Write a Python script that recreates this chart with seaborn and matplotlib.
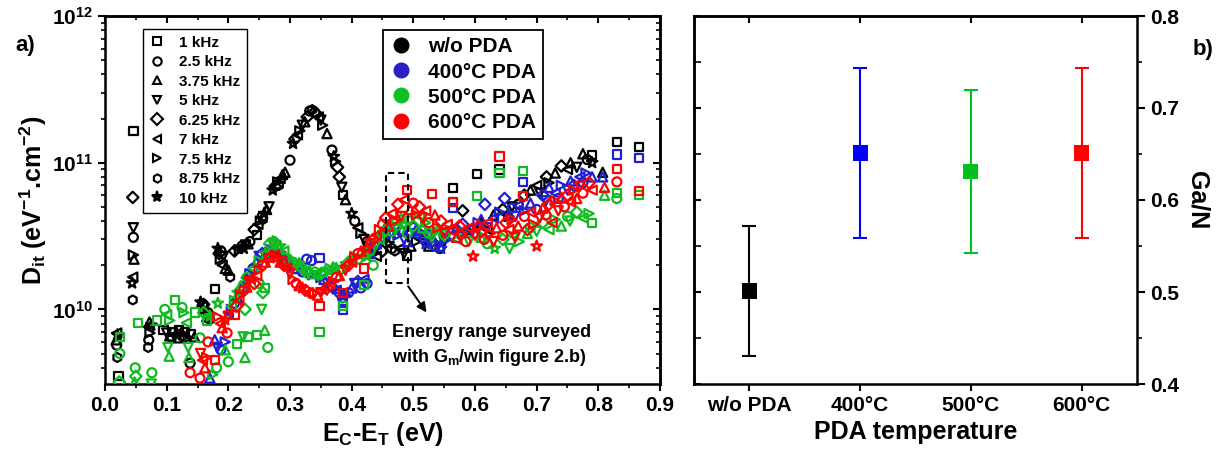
import numpy as np
import pandas as pd
import matplotlib
matplotlib.use("Agg")
import matplotlib.pyplot as plt
import seaborn as sns
from matplotlib.lines import Line2D
from matplotlib.patches import Rectangle
from matplotlib.ticker import MultipleLocator, FormatStrFormatter, FixedLocator

# ---------------- data ----------------
freq_labels = ["1 kHz", "2.5 kHz", "3.75 kHz", "5 kHz", "6.25 kHz",
               "7 kHz", "7.5 kHz", "8.75 kHz", "10 kHz"]
cond_labels = ["w/o PDA", "400°C PDA", "500°C PDA", "600°C PDA"]
DIT_UNIT = 1e10  # y values below are in units of 1e10 eV-1 cm-2

# (E_C - E_T [eV], Dit [1e10], frequency index)
wo_pda = [
    (0.019, 0.69, 5), (0.020, 0.67, 8), (0.019, 0.57, 1), (0.020, 0.47, 7), (0.022, 0.35, 0), (0.018, 0.62, 2),
    (0.046, 16.4, 0), (0.045, 5.8, 4), (0.046, 3.6, 3), (0.046, 3.1, 1), (0.046, 2.35, 6), (0.047, 2.2, 2),
    (0.045, 1.66, 5), (0.044, 1.51, 8), (0.045, 1.16, 7),
    (0.072, 0.82, 2), (0.070, 0.76, 5), (0.073, 0.69, 6), (0.071, 0.62, 1), (0.070, 0.55, 7), (0.075, 0.78, 8),
    (0.095, 0.72, 0), (0.100, 0.69, 3), (0.105, 0.66, 2), (0.110, 0.70, 0), (0.115, 0.68, 5), (0.120, 0.72, 0),
    (0.125, 0.66, 1), (0.130, 0.70, 0), (0.135, 0.64, 6), (0.138, 0.43, 1), (0.140, 0.68, 0), (0.145, 0.65, 2),
    (0.108, 0.64, 7), (0.118, 0.64, 2),
    (0.155, 1.12, 8), (0.158, 1.05, 5), (0.162, 1.00, 6), (0.165, 0.89, 2), (0.167, 0.95, 1), (0.160, 1.08, 4),
    (0.178, 1.38, 0), (0.170, 0.85, 7),
    (0.183, 2.6, 8), (0.185, 2.4, 4), (0.187, 2.2, 6), (0.190, 2.0, 5), (0.192, 2.3, 3), (0.195, 1.9, 2),
    (0.200, 1.85, 2), (0.203, 1.66, 7), (0.188, 2.5, 1),
    (0.210, 2.5, 4), (0.215, 2.6, 5), (0.218, 2.55, 6), (0.222, 2.7, 1), (0.225, 2.6, 8), (0.228, 2.75, 3),
    (0.232, 2.8, 2), (0.235, 2.9, 1), (0.246, 3.2, 0),
    (0.242, 3.5, 4), (0.248, 3.8, 5), (0.252, 4.0, 6), (0.255, 4.3, 1), (0.258, 4.5, 8), (0.262, 4.8, 2),
    (0.266, 5.0, 3), (0.256, 4.1, 7),
    (0.272, 6.5, 8), (0.276, 6.9, 4), (0.280, 7.4, 6), (0.284, 7.8, 5), (0.288, 8.3, 2), (0.292, 8.6, 2),
    (0.300, 10.4, 1), (0.282, 7.0, 7),
    (0.305, 13.5, 8), (0.308, 14.5, 4), (0.312, 15.5, 5), (0.316, 16.5, 6), (0.320, 18.0, 3), (0.324, 19.0, 2),
    (0.328, 20.5, 4),
    (0.332, 22.5, 1), (0.336, 23.0, 7), (0.340, 22.0, 1), (0.343, 21.5, 4), (0.346, 20.5, 5), (0.350, 19.5, 3),
    (0.353, 18.0, 6),
    (0.360, 15.8, 2), (0.368, 12.2, 1), (0.371, 11.0, 8), (0.374, 10.2, 6), (0.377, 9.3, 4), (0.380, 8.0, 4),
    (0.384, 6.8, 3), (0.386, 6.0, 0), (0.390, 5.6, 2), (0.400, 4.5, 8), (0.405, 4.0, 1), (0.410, 3.6, 5),
    (0.415, 3.3, 6), (0.420, 3.0, 3), (0.425, 2.9, 1), (0.430, 2.6, 2), (0.436, 2.4, 6), (0.440, 2.3, 5),
    (0.450, 2.5, 4), (0.460, 2.8, 8), (0.465, 2.6, 1), (0.470, 2.5, 7), (0.478, 2.6, 5), (0.485, 2.4, 3),
    (0.490, 2.3, 0), (0.496, 2.7, 2), (0.505, 2.9, 6), (0.512, 3.0, 5), (0.518, 2.8, 3), (0.525, 2.7, 2),
    (0.530, 2.9, 4),
    (0.543, 2.6, 1), (0.550, 2.9, 3), (0.564, 6.7, 0), (0.580, 4.7, 4), (0.590, 3.4, 8), (0.603, 8.4, 0),
    (0.610, 3.9, 2), (0.620, 3.5, 5), (0.630, 4.4, 2), (0.640, 9.0, 0), (0.645, 4.8, 4), (0.655, 4.3, 6),
    (0.660, 5.0, 3),
    (0.670, 5.2, 1), (0.680, 6.0, 4), (0.690, 6.5, 2), (0.700, 7.0, 5), (0.705, 6.2, 3), (0.716, 8.0, 4),
    (0.720, 7.3, 6), (0.730, 8.5, 2), (0.740, 9.5, 4), (0.750, 9.0, 5), (0.755, 10.0, 2), (0.765, 9.3, 3),
    (0.775, 11.5, 2), (0.782, 10.5, 1), (0.790, 11.3, 0), (0.790, 10.0, 8), (0.807, 8.6, 2), (0.830, 13.9, 0),
    (0.866, 12.8, 0),
]

pda_400 = [
    (0.170, 0.34, 2), (0.178, 0.62, 2), (0.182, 0.55, 3), (0.188, 0.53, 1), (0.195, 0.60, 6), (0.200, 0.95, 5),
    (0.205, 1.00, 6), (0.210, 1.10, 1), (0.215, 1.20, 2), (0.220, 1.35, 4), (0.225, 1.50, 5), (0.230, 1.60, 8),
    (0.235, 1.75, 6), (0.240, 1.90, 1), (0.245, 2.10, 2), (0.250, 2.30, 3), (0.255, 2.40, 4), (0.260, 2.45, 5),
    (0.265, 2.50, 1), (0.270, 2.55, 6), (0.275, 2.45, 2), (0.280, 2.40, 8), (0.285, 2.30, 3),
    (0.290, 2.20, 1), (0.295, 2.10, 4), (0.300, 2.00, 5), (0.305, 1.95, 6), (0.310, 1.90, 2), (0.315, 1.85, 3),
    (0.320, 1.80, 1), (0.327, 2.20, 1), (0.335, 2.15, 1), (0.330, 1.75, 4), (0.340, 1.70, 5), (0.348, 2.25, 0),
    (0.350, 1.65, 6), (0.355, 1.60, 2),
    (0.360, 1.50, 3), (0.365, 1.45, 1), (0.370, 1.40, 4), (0.375, 1.35, 5), (0.380, 1.30, 1), (0.385, 1.20, 1),
    (0.386, 1.10, 0), (0.386, 1.00, 0), (0.390, 1.25, 6), (0.395, 1.30, 1), (0.400, 1.40, 2), (0.405, 1.50, 3),
    (0.410, 1.55, 4), (0.415, 1.40, 1), (0.420, 1.60, 5), (0.425, 1.50, 1),
    (0.430, 2.40, 2), (0.435, 2.60, 6), (0.440, 2.80, 5), (0.445, 3.00, 4), (0.450, 3.10, 1), (0.455, 3.30, 2),
    (0.460, 3.50, 3), (0.465, 3.30, 8), (0.470, 3.60, 5), (0.475, 3.20, 6), (0.480, 3.40, 1), (0.485, 3.00, 3),
    (0.490, 2.90, 2), (0.497, 3.30, 0), (0.500, 3.60, 4),
    (0.505, 3.20, 5), (0.510, 3.40, 6), (0.515, 3.00, 3), (0.520, 2.80, 8), (0.525, 3.30, 2), (0.530, 2.90, 1),
    (0.535, 2.70, 1), (0.540, 3.10, 4), (0.545, 2.60, 8), (0.550, 3.40, 5), (0.555, 3.00, 6), (0.564, 4.90, 0),
    (0.570, 3.60, 2), (0.575, 3.20, 3), (0.580, 3.80, 4), (0.590, 3.50, 5), (0.600, 3.30, 1), (0.605, 3.90, 6),
    (0.610, 4.10, 2), (0.616, 5.20, 4), (0.620, 3.60, 3), (0.630, 4.20, 5), (0.640, 4.60, 6), (0.648, 5.70, 4),
    (0.655, 4.40, 2), (0.660, 4.90, 1), (0.665, 4.30, 3), (0.670, 5.10, 5), (0.678, 7.40, 0), (0.680, 4.70, 6),
    (0.690, 5.30, 2), (0.700, 4.80, 1),
    (0.710, 6.00, 4), (0.715, 5.50, 3), (0.720, 6.80, 2), (0.730, 6.20, 5), (0.735, 5.70, 1), (0.740, 7.00, 6),
    (0.750, 6.50, 3), (0.755, 7.50, 2), (0.760, 7.00, 4), (0.770, 8.00, 5), (0.775, 7.30, 1), (0.780, 8.50, 6),
    (0.790, 8.00, 2), (0.807, 8.00, 2), (0.830, 11.4, 0), (0.866, 10.8, 0),
]

pda_500 = [
    (0.024, 0.65, 0), (0.024, 0.50, 1), (0.023, 0.32, 4), (0.049, 0.40, 1), (0.050, 0.35, 4), (0.048, 0.32, 2),
    (0.054, 0.81, 0), (0.076, 0.37, 1), (0.075, 0.31, 3), (0.084, 0.84, 0), (0.097, 1.00, 1), (0.100, 0.92, 5),
    (0.105, 0.84, 6), (0.102, 0.55, 3), (0.104, 0.48, 2), (0.113, 1.16, 0), (0.125, 1.03, 1), (0.128, 0.95, 6),
    (0.132, 0.81, 5), (0.135, 0.55, 3), (0.136, 0.47, 2), (0.146, 0.95, 0), (0.154, 0.64, 1), (0.160, 0.95, 4),
    (0.165, 0.84, 0), (0.170, 0.90, 8), (0.183, 1.10, 8), (0.181, 0.40, 1), (0.195, 0.53, 2), (0.200, 0.44, 1),
    (0.214, 0.58, 0), (0.224, 0.65, 3), (0.227, 0.47, 2), (0.232, 0.65, 0), (0.246, 0.67, 0), (0.259, 0.72, 2),
    (0.264, 0.55, 1), (0.254, 1.00, 3), (0.250, 1.50, 1), (0.256, 1.30, 4), (0.227, 1.00, 4), (0.260, 1.40, 0),
    (0.175, 0.36, 6),
    (0.205, 1.05, 5), (0.210, 1.15, 6), (0.215, 1.30, 8), (0.220, 1.45, 2), (0.230, 1.65, 1), (0.240, 1.90, 5),
    (0.250, 2.15, 6), (0.260, 2.40, 8), (0.267, 2.80, 4), (0.272, 2.90, 8), (0.276, 2.85, 4), (0.280, 2.75, 2),
    (0.284, 2.70, 8), (0.290, 2.50, 5), (0.295, 2.30, 6), (0.300, 2.20, 2), (0.305, 2.10, 1), (0.310, 2.00, 3),
    (0.315, 2.05, 8), (0.320, 1.90, 4), (0.325, 1.85, 5), (0.330, 1.80, 6), (0.335, 1.75, 2), (0.340, 1.80, 1),
    (0.345, 1.70, 3), (0.348, 0.70, 0), (0.350, 1.75, 4), (0.355, 1.80, 1), (0.360, 1.85, 5), (0.365, 1.90, 6),
    (0.370, 1.95, 2), (0.375, 1.90, 8), (0.380, 1.85, 1), (0.386, 1.05, 0), (0.390, 1.95, 3), (0.395, 2.10, 4),
    (0.400, 2.20, 5), (0.405, 2.30, 6), (0.410, 2.20, 1), (0.420, 1.46, 0), (0.420, 2.40, 2), (0.425, 2.30, 8),
    (0.430, 2.50, 1), (0.435, 2.00, 1), (0.440, 2.80, 3), (0.445, 3.00, 5),
    (0.450, 3.20, 6), (0.455, 3.50, 4), (0.460, 3.80, 2), (0.465, 3.40, 1), (0.470, 4.00, 5), (0.475, 3.60, 6),
    (0.480, 4.20, 2), (0.485, 3.80, 8), (0.490, 3.30, 1), (0.495, 4.00, 3), (0.500, 3.70, 4), (0.510, 4.30, 5),
    (0.515, 3.60, 2), (0.520, 3.90, 6), (0.525, 3.30, 1), (0.530, 3.10, 3), (0.540, 3.50, 8), (0.550, 3.20, 4),
    (0.564, 5.40, 0), (0.570, 3.00, 5), (0.580, 3.30, 6), (0.590, 2.90, 3), (0.603, 5.90, 0),
    (0.610, 3.10, 2), (0.620, 2.80, 1), (0.632, 2.60, 8), (0.640, 8.50, 0), (0.645, 3.00, 4), (0.656, 2.60, 3),
    (0.660, 3.20, 5), (0.672, 2.90, 6), (0.678, 8.80, 0), (0.685, 3.30, 2), (0.690, 3.60, 1), (0.700, 3.40, 3),
    (0.710, 3.90, 4), (0.720, 3.50, 5), (0.730, 4.10, 6), (0.740, 3.70, 2), (0.750, 4.30, 1), (0.754, 4.00, 3),
    (0.765, 4.60, 4), (0.775, 4.20, 5), (0.785, 4.50, 6), (0.790, 3.90, 0), (0.810, 6.00, 2), (0.830, 6.20, 0),
    (0.830, 5.70, 1), (0.866, 6.00, 0),
]

pda_600 = [
    (0.138, 0.37, 1), (0.154, 0.34, 1), (0.155, 0.50, 3), (0.158, 0.45, 5), (0.162, 0.40, 2), (0.165, 0.47, 6),
    (0.167, 0.60, 1), (0.178, 0.45, 0), (0.183, 0.89, 6), (0.187, 0.80, 5), (0.190, 0.75, 2), (0.195, 0.85, 8),
    (0.198, 0.69, 1), (0.200, 0.90, 3), (0.210, 0.92, 0),
    (0.213, 1.05, 4), (0.217, 1.15, 5), (0.220, 1.25, 6), (0.225, 1.35, 1), (0.230, 1.42, 2), (0.233, 1.55, 3),
    (0.238, 1.60, 8), (0.242, 1.50, 4), (0.246, 1.70, 5), (0.250, 1.85, 6), (0.255, 2.00, 1), (0.260, 2.10, 2),
    (0.265, 2.20, 3), (0.270, 2.30, 4), (0.275, 2.35, 5), (0.280, 2.25, 6), (0.284, 2.10, 2), (0.288, 2.15, 1),
    (0.290, 2.00, 4), (0.295, 1.90, 5), (0.300, 1.75, 3), (0.305, 1.60, 6), (0.310, 1.50, 1), (0.315, 1.45, 2),
    (0.320, 1.40, 8), (0.325, 1.35, 4), (0.330, 1.30, 5), (0.335, 1.28, 1), (0.340, 1.30, 6), (0.345, 1.25, 2),
    (0.348, 1.05, 0), (0.350, 1.30, 3), (0.355, 1.35, 8), (0.360, 1.40, 4), (0.365, 1.50, 5), (0.370, 1.55, 6),
    (0.375, 1.65, 1), (0.380, 1.70, 2), (0.386, 1.30, 0), (0.390, 1.85, 3), (0.395, 2.00, 4), (0.400, 2.10, 5),
    (0.405, 2.25, 6), (0.410, 2.40, 1), (0.415, 2.50, 2), (0.420, 1.90, 0), (0.425, 2.60, 8), (0.430, 2.80, 3),
    (0.435, 3.00, 4), (0.440, 3.20, 5), (0.445, 3.50, 6),
    (0.450, 3.80, 1), (0.455, 4.20, 4), (0.460, 3.70, 2), (0.465, 4.50, 5), (0.470, 4.00, 6), (0.475, 5.20, 4),
    (0.480, 4.30, 3), (0.485, 5.60, 5), (0.490, 6.50, 0), (0.495, 4.80, 2), (0.500, 5.30, 1), (0.505, 4.40, 6),
    (0.510, 5.00, 4), (0.515, 4.20, 3), (0.520, 4.70, 5), (0.525, 3.90, 1), (0.530, 6.10, 0), (0.535, 4.40, 2),
    (0.540, 3.60, 6), (0.545, 4.00, 4), (0.550, 3.30, 3),
    (0.555, 3.80, 5), (0.564, 5.40, 0), (0.565, 3.50, 1), (0.570, 3.10, 2), (0.575, 3.70, 4), (0.580, 3.30, 6),
    (0.585, 2.90, 1), (0.590, 3.60, 5), (0.597, 2.30, 8), (0.600, 3.20, 3), (0.605, 3.80, 2), (0.610, 3.40, 4),
    (0.615, 3.00, 1), (0.620, 3.90, 5), (0.625, 3.30, 6), (0.630, 2.90, 3), (0.635, 3.60, 2), (0.640, 11.0, 0),
    (0.645, 3.20, 1), (0.650, 3.90, 4),
    (0.655, 3.50, 5), (0.660, 4.10, 6), (0.665, 3.10, 3), (0.670, 3.70, 2), (0.678, 5.90, 0), (0.680, 4.30, 1),
    (0.685, 3.50, 4), (0.690, 4.60, 5), (0.695, 3.80, 6), (0.700, 2.70, 8), (0.705, 4.20, 3), (0.710, 4.90, 2),
    (0.715, 4.40, 1), (0.720, 5.20, 4), (0.725, 3.90, 5), (0.730, 5.50, 6), (0.735, 4.70, 3), (0.740, 5.80, 2),
    (0.745, 5.00, 1), (0.750, 6.00, 4), (0.755, 5.40, 5), (0.760, 6.50, 6), (0.765, 5.70, 2), (0.770, 6.90, 3),
    (0.775, 6.20, 1), (0.785, 7.30, 4), (0.790, 6.50, 5), (0.810, 6.80, 2), (0.830, 9.10, 0), (0.830, 7.40, 1),
    (0.866, 6.40, 0),
]

# panel b
pda_categories = ["w/o PDA", "400°C", "500°C", "600°C"]
ga_n_ratio = [0.501, 0.651, 0.631, 0.651]
ga_n_error = [0.071, 0.092, 0.089, 0.092]

# ---------------- style ----------------
sns.set_theme(style="ticks")
plt.rcParams.update({
    "font.family": ["Liberation Sans", "DejaVu Sans"],
    "font.weight": "bold",
    "axes.labelweight": "bold",
    "mathtext.fontset": "custom",
    "mathtext.rm": "Liberation Sans:bold",
    "mathtext.it": "Liberation Sans:bold",
    "mathtext.bf": "Liberation Sans:bold",
    "mathtext.default": "regular",
    "axes.edgecolor": "black",
    "axes.linewidth": 1.8,
    "text.color": "black",
    "axes.labelcolor": "black",
    "xtick.color": "black",
    "ytick.color": "black",
})

cond_colors = ["#000000", "#2020d0", "#10bb22", "#ff0000"]
legend_colors = ["#000000", "#2a20c4", "#10c020", "#ff0000"]
panel_b_colors = ["#000000", "#0000ff", "#00c020", "#ff0000"]
markers = ["s", "o", "^", "v", "D", "<", ">", "h", "*"]
msizes = [36, 42, 44, 44, 34, 44, 44, 42, 64]

TICK_FS = 15
LABEL_FS = 18

fig = plt.figure(figsize=(12.22, 4.59), dpi=100)
ax1 = fig.add_axes([105 / 1222, 75 / 459, 555 / 1222, 368 / 459])
ax2 = fig.add_axes([694 / 1222, 75 / 459, 443 / 1222, 368 / 459])

# ---------------- panel a ----------------
ax1.set_yscale("log")
for pts, col in zip([wo_pda, pda_400, pda_500, pda_600], cond_colors):
    df = pd.DataFrame(pts, columns=["E", "Dit", "f"])
    df["Dit"] = df["Dit"] * DIT_UNIT
    for fi, mk in enumerate(markers):
        sub = df[df["f"] == fi]
        if sub.empty:
            continue
        sns.scatterplot(data=sub, x="E", y="Dit", marker=mk, s=msizes[fi],
                        color=col, facecolor="none", edgecolor=col,
                        linewidth=1.6, ax=ax1, legend=False, zorder=3)

ax1.set_xlim(0, 0.9)
ax1.set_ylim(3.1e9, 1e12)
ax1.xaxis.set_major_locator(MultipleLocator(0.1))
ax1.xaxis.set_minor_locator(MultipleLocator(0.05))
ax1.xaxis.set_major_formatter(FormatStrFormatter("%.1f"))
ax1.tick_params(axis="both", which="major", direction="out", length=5, width=1.5,
                labelsize=TICK_FS, top=False, right=False)
ax1.tick_params(axis="both", which="minor", direction="out", length=3, width=1.2,
                top=False, right=False)
ax1.set_xlabel("E$_C$-E$_T$ (eV)", fontsize=LABEL_FS, fontweight="bold", labelpad=4)
ax1.set_ylabel("D$_{it}$ (eV$^{-1}$.cm$^{-2}$)", fontsize=LABEL_FS, fontweight="bold", labelpad=2)
for lab in ax1.get_xticklabels() + ax1.get_yticklabels():
    lab.set_fontweight("bold")

top1 = ax1.secondary_xaxis("top")
top1.xaxis.set_major_locator(MultipleLocator(0.1))
top1.xaxis.set_minor_locator(MultipleLocator(0.05))
top1.tick_params(which="major", direction="in", length=5, width=1.5, labeltop=False)
top1.tick_params(which="minor", direction="in", length=3, width=1.2)
right1 = ax1.secondary_yaxis("right")
right1.tick_params(which="major", direction="in", length=5, width=1.5, labelright=False)
right1.tick_params(which="minor", direction="in", length=3, width=1.2, labelright=False)
for sa in (top1, right1):
    for sp in sa.spines.values():
        sp.set_linewidth(1.8)

# dashed box + arrow + annotation
ax1.add_patch(Rectangle((0.455, 1.52e10), 0.036, 8.5e10 - 1.52e10, fill=False,
                        ls=(0, (3, 2)), lw=1.5, ec="black", zorder=4))
ax1.annotate("", xy=(0.524, 9.2e9), xytext=(0.489, 1.49e10),
             arrowprops=dict(arrowstyle="-|>", color="black", lw=1.4, mutation_scale=14))
ax1.text(0.517, 0.103, "Energy range surveyed\nwith G$_m$/win figure 2.b)",
         transform=ax1.transAxes, ha="left", va="center", fontsize=13,
         fontweight="bold", linespacing=1.35)

# legends
freq_handles = [Line2D([], [], ls="none", marker=mk, mfc=("black" if mk == "*" else "none"),
                       mec="black", mew=1.5, ms=(8 if mk == "*" else 6)) for mk in markers]
leg1 = ax1.legend(freq_handles, freq_labels, loc="upper left", bbox_to_anchor=(0.068, 0.965),
                  prop={"weight": "bold", "size": 11}, frameon=True, fancybox=False,
                  edgecolor="black", framealpha=1, handlelength=1.0, handletextpad=0.9,
                  labelspacing=0.36, borderpad=0.45, borderaxespad=0)
leg1.get_frame().set_linewidth(1.0)
ax1.add_artist(leg1)
cond_handles = [Line2D([], [], ls="none", marker="o", mfc=c, mec=c, ms=10.5) for c in legend_colors]
leg2 = ax1.legend(cond_handles, cond_labels, loc="upper left", bbox_to_anchor=(0.501, 0.962),
                  prop={"weight": "bold", "size": 15}, frameon=True, fancybox=False,
                  edgecolor="black", framealpha=1, handlelength=1.0, handletextpad=0.8,
                  labelspacing=0.3, borderpad=0.35, borderaxespad=0)
leg2.get_frame().set_linewidth(1.3)

# ---------------- panel b ----------------
pos = np.arange(len(pda_categories))
for p, v, e, c in zip(pos, ga_n_ratio, ga_n_error, panel_b_colors):
    ax2.errorbar(p, v, yerr=e, fmt="none", ecolor=c, elinewidth=1.5, capsize=5, capthick=1.5, zorder=2)
sns.scatterplot(x=pos, y=ga_n_ratio, hue=pda_categories, palette=panel_b_colors, marker="s",
                s=120, linewidth=0, ax=ax2, legend=False, zorder=3)
ax2.set_xlim(-0.5, 3.5)
ax2.set_ylim(0.4, 0.8)
ax2.set_xticks(pos)
ax2.set_xticklabels(pda_categories, fontsize=TICK_FS, fontweight="bold")
ax2.yaxis.tick_right()
ax2.yaxis.set_label_position("right")
ax2.yaxis.set_major_locator(MultipleLocator(0.1))
ax2.yaxis.set_minor_locator(MultipleLocator(0.05))
ax2.yaxis.set_major_formatter(FormatStrFormatter("%.1f"))
ax2.tick_params(axis="y", which="major", direction="out", length=6, width=1.5, labelsize=TICK_FS,
                left=False, right=True, labelleft=False, labelright=True)
ax2.tick_params(axis="y", which="minor", direction="out", length=3.5, width=1.2, left=False, right=True)
ax2.tick_params(axis="x", which="major", direction="out", length=5, width=1.5, labelsize=TICK_FS, top=False)
for lab in ax2.get_yticklabels():
    lab.set_fontweight("bold")
ax2.set_xlabel("PDA temperature", fontsize=LABEL_FS, fontweight="bold", labelpad=4)
ax2.set_ylabel("Ga/N", fontsize=LABEL_FS, fontweight="bold", rotation=270, labelpad=22)

top2 = ax2.secondary_xaxis("top")
top2.xaxis.set_major_locator(FixedLocator(pos))
top2.tick_params(which="major", direction="in", length=5, width=1.5, labeltop=False)
left2 = ax2.secondary_yaxis("left")
left2.yaxis.set_major_locator(MultipleLocator(0.1))
left2.yaxis.set_minor_locator(MultipleLocator(0.05))
left2.tick_params(which="major", direction="in", length=5, width=1.5, labelleft=False)
left2.tick_params(which="minor", direction="in", length=5, width=1.2)
for sa in (top2, left2):
    for sp in sa.spines.values():
        sp.set_linewidth(1.8)

fig.text(25 / 1222, 1 - 45 / 459, "a)", fontsize=16, fontweight="bold", ha="center", va="center")
fig.text(1203 / 1222, 1 - 50 / 459, "b)", fontsize=16, fontweight="bold", ha="center", va="center")

fig.savefig("out.png", dpi=100)
